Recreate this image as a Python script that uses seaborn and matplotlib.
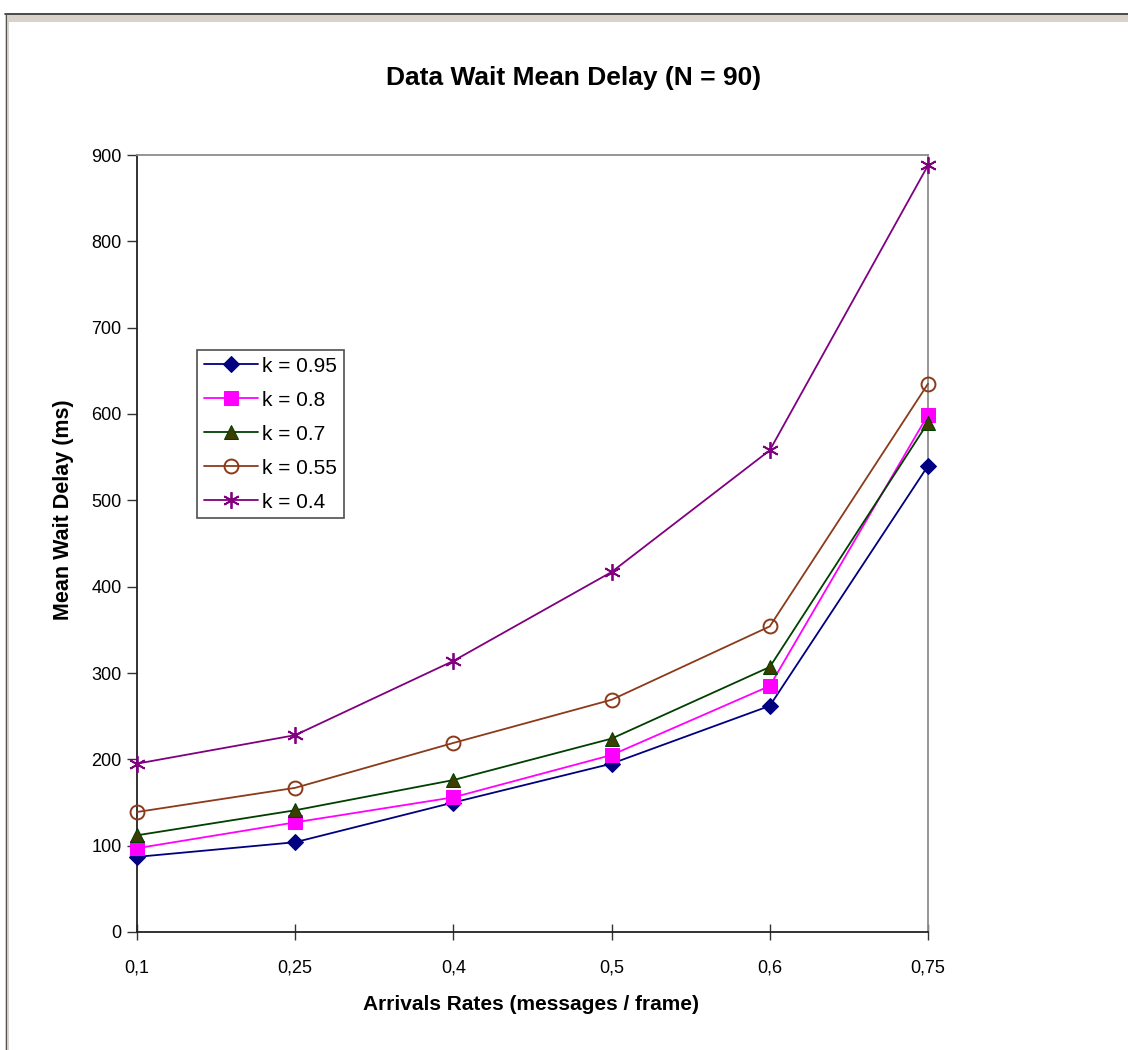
import matplotlib
matplotlib.use("Agg")
import matplotlib.pyplot as plt
from matplotlib.patches import Rectangle
from matplotlib.lines import Line2D
import seaborn as sns
import pandas as pd

# ---- data ----
rates = ["0,1", "0,25", "0,4", "0,5", "0,6", "0,75"]
k095 = [87, 104, 150, 195, 262, 540]
k08 = [97, 127, 156, 205, 285, 599]
k07 = [112, 141, 176, 224, 307, 590]
k055 = [139, 167, 219, 269, 354, 635]
k04 = [195, 228, 314, 417, 558, 888]
series_names = ["k = 0.95", "k = 0.8", "k = 0.7", "k = 0.55", "k = 0.4"]
series_values = [k095, k08, k07, k055, k04]

styles = [
    dict(color="#000080", marker="D", markerfacecolor="#000080", markeredgecolor="#000080", markersize=8),
    dict(color="#FF00FF", marker="s", markerfacecolor="#FF00FF", markeredgecolor="#FF00FF", markersize=9.5),
    dict(color="#004000", marker="^", markerfacecolor="#3d3d00", markeredgecolor="#004000", markersize=10),
    dict(color="#8B3A1A", marker="o", markerfacecolor="none", markeredgecolor="#8B3A1A", markersize=10, markeredgewidth=1.4),
    dict(color="#800080", marker=(6, 2, 0), markerfacecolor="#800080", markeredgecolor="#800080", markersize=12, markeredgewidth=1.3),
]

rows = []
for name, vals in zip(series_names, series_values):
    for i, (r, v) in enumerate(zip(rates, vals)):
        rows.append({"pos": i, "rate": r, "value": v, "series": name})
df = pd.DataFrame(rows)

sns.set_theme(style="white")
plt.rcParams["font.family"] = ["Liberation Sans", "DejaVu Sans"]
plt.rcParams["text.color"] = "black"
plt.rcParams["axes.labelcolor"] = "black"

fig = plt.figure(figsize=(11.28, 10.5), dpi=100)
W, H = 1128, 1050

# outer frame
fig.patches.append(Rectangle((5 / W, 0), 1, 1 - 13 / H, transform=fig.transFigure,
                             facecolor="#d8d2cb", edgecolor="none", zorder=-20))
fig.patches.append(Rectangle((9 / W, 0), 1, 1 - 22 / H, transform=fig.transFigure,
                             facecolor="white", edgecolor="none", zorder=-19))
fig.lines.append(Line2D([5 / W, 1], [1 - 13.5 / H, 1 - 13.5 / H], transform=fig.transFigure,
                        color="#333333", lw=1.2, zorder=-18))
fig.lines.append(Line2D([5.5 / W, 5.5 / W], [0, 1 - 13 / H], transform=fig.transFigure,
                        color="#555555", lw=0.8, zorder=-18))

ax = fig.add_axes([137 / W, 1 - 932 / H, (928 - 137) / W, (932 - 155) / H])
ax.set_facecolor("white")

for name, st in zip(series_names, styles):
    sub = df[df["series"] == name]
    sns.lineplot(data=sub, x="pos", y="value", ax=ax, label=name, lw=1.3,
                 clip_on=False, zorder=3, **st)

ax.set_xlim(0, len(rates) - 1)
ax.set_ylim(0, 900)
ax.set_xticks(range(len(rates)))
ax.set_xticklabels(rates)
ax.set_yticks(range(0, 901, 100))
ax.tick_params(axis="both", labelsize=13, colors="black")
ax.tick_params(axis="x", direction="inout", length=12, width=1, pad=14, color="#333333", bottom=True)
ax.tick_params(axis="y", direction="out", length=7, width=1, pad=4, color="#333333", left=True)

for side in ["left", "bottom"]:
    ax.spines[side].set_color("#222222")
    ax.spines[side].set_linewidth(1.3)
for side in ["top", "right"]:
    ax.spines[side].set_visible(True)
    ax.spines[side].set_color("#8c8c8c")
    ax.spines[side].set_linewidth(1.3)

ax.set_xlabel("Arrivals Rates (messages / frame)", fontsize=15, fontweight="bold")
ax.set_ylabel("Mean Wait Delay (ms)", fontsize=15.5, fontweight="bold")
ax.xaxis.label.set_va("center")
ax.yaxis.label.set_va("center")
# place labels in figure pixel coordinates (origin at bottom-left)
ax.xaxis.set_label_coords(531 / W, 1 - 1005 / H, transform=fig.transFigure)
ax.yaxis.set_label_coords(63 / W, 1 - 510 / H, transform=fig.transFigure)

fig.text(574 / W, 1 - 78 / H, "Data Wait Mean Delay (N = 90)", ha="center", va="center",
         fontsize=19, fontweight="bold")

leg = ax.legend(loc="upper left", bbox_to_anchor=(197 / W, 1 - 350 / H),
                bbox_transform=fig.transFigure, fontsize=15, frameon=True,
                fancybox=False, edgecolor="#222222", handlelength=2.6,
                handletextpad=0.2, borderpad=0.32, labelspacing=0.72, borderaxespad=0)
leg.get_frame().set_linewidth(1.2)
for t in leg.get_texts():
    t.set_color("black")

fig.savefig("out.png", dpi=100)
